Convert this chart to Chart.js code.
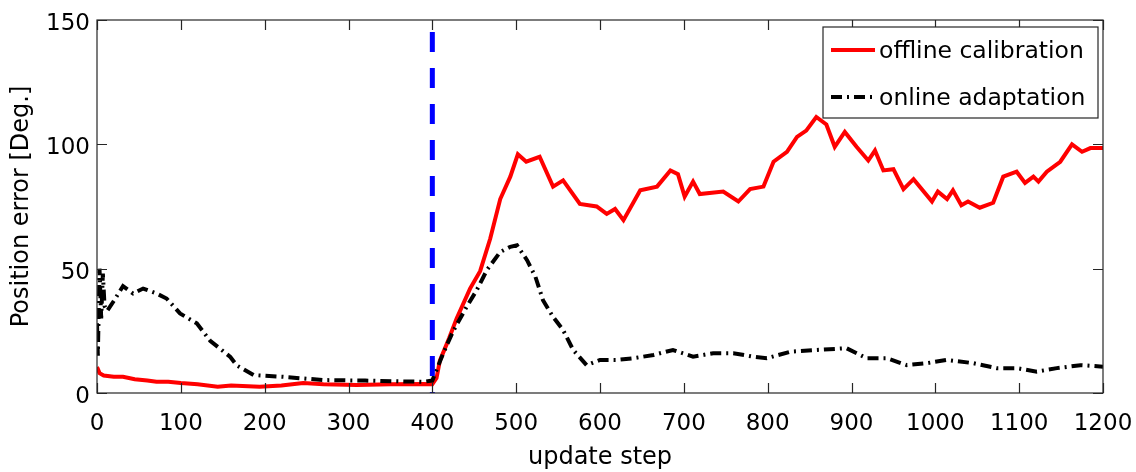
<!DOCTYPE html>
<html>
<head>
<meta charset="utf-8">
<script src="https://cdn.jsdelivr.net/npm/chart.js@4/dist/chart.umd.min.js"></script>
<style>
  html, body { margin: 0; padding: 0; background: #fff; }
  #wrap { width: 1136px; height: 472px; }
</style>
</head>
<body>
<div id="wrap"><canvas id="myChart" width="1136" height="472"></canvas></div>
<script>
// values
var offlineSteps = [0, 3, 8, 20, 31, 45, 60, 71, 85, 100, 120, 144, 160, 194, 220, 246, 270, 310, 350, 389, 400,
  405, 409, 420, 429, 445, 457, 469, 481, 493, 502, 512, 528, 544, 556, 576, 596, 608, 618, 628, 648, 668,
  684, 693, 701, 711, 719, 747, 765, 779, 795, 807, 823, 835, 846, 858, 870, 880, 892, 906, 920, 928, 938,
  950, 962, 974, 996, 1003, 1014, 1021, 1031, 1039, 1053, 1069, 1081, 1097, 1107, 1117, 1123, 1133, 1149,
  1163, 1175, 1185, 1200];
var offlineError = [10.5, 8, 7, 6.5, 6.5, 5.5, 5, 4.5, 4.5, 4, 3.5, 2.5, 3, 2.5, 3, 4, 3.5, 3.2, 3.5, 3.6, 3.5,
  6, 13, 22, 30, 42, 49, 62, 78, 87, 96, 93, 95, 83, 85.5, 76, 75, 72, 74, 69.5, 81.5, 83,
  89.5, 88, 79, 85, 80, 81, 77, 82, 83, 93, 97, 103, 105.5, 111, 108, 99, 105, 99, 93.5, 97.5, 89.5,
  90, 82, 86, 77, 81, 78, 81.5, 75.5, 77, 74.5, 76.5, 87, 89, 84.5, 87, 85, 89, 93,
  100, 97, 98.5, 98.5];

var onlineSteps = [0, 1, 3, 5, 7, 9, 12, 20, 31, 43, 55, 71, 83, 99, 119, 135, 159, 167, 187, 222, 270, 320, 389, 400,
  413, 425, 441, 453, 465, 481, 493, 501, 513, 523, 532, 544, 556, 568, 584, 600, 620, 640, 664, 687,
  711, 735, 759, 783, 799, 827, 858, 894, 918, 942, 966, 990, 1014, 1045, 1073, 1097, 1121, 1145, 1173, 1200];
var onlineError = [28, 15, 50, 30, 48, 35, 33, 37, 43, 40, 42, 40, 38, 32, 28, 21, 14.5, 11, 7.2, 6.5, 5.2, 5, 4.5, 5,
  16, 25, 34.7, 41.4, 49.4, 56.7, 58.8, 59.4, 53.4, 46.7, 37.3, 30.6, 25.3, 17.3, 11.2, 13.3, 13.3, 14, 15.3, 17.3,
  14.6, 16, 16, 14.6, 14, 16.6, 17.3, 18, 14, 14, 11.2, 12, 13.3, 12, 10, 10, 8.6, 10, 11.2, 10.6];

var switchStep = 400;
var xTicks = [0, 100, 200, 300, 400, 500, 600, 700, 800, 900, 1000, 1100, 1200];
var yTicks = [0, 50, 100, 150];

function toPoints(xs, ys) {
  return xs.map(function (x, i) { return { x: x, y: ys[i] }; });
}

var FONT = "'DejaVu Sans', 'Liberation Sans', Arial, sans-serif";

// box around the axes with inward tick marks, like the original figure
var framePlugin = {
  id: "frame",
  afterDatasetsDraw: function (chart) {
    var ctx = chart.ctx;
    var a = chart.chartArea;
    var xs = chart.scales.x, ys = chart.scales.y;
    ctx.save();
    ctx.strokeStyle = "#262626";
    ctx.lineWidth = 1.2;
    ctx.strokeRect(a.left, a.top, a.right - a.left, a.bottom - a.top);
    ctx.beginPath();
    xTicks.forEach(function (t) {
      var px = Math.round(xs.getPixelForValue(t)) + 0.5;
      ctx.moveTo(px, a.bottom); ctx.lineTo(px, a.bottom - 10);
      ctx.moveTo(px, a.top); ctx.lineTo(px, a.top + 10);
    });
    yTicks.forEach(function (t) {
      var py = Math.round(ys.getPixelForValue(t)) + 0.5;
      ctx.moveTo(a.left, py); ctx.lineTo(a.left + 10, py);
      ctx.moveTo(a.right, py); ctx.lineTo(a.right - 10, py);
    });
    ctx.stroke();
    ctx.restore();
  },
  afterDraw: function (chart) {
    // legend box in the upper right corner
    var ctx = chart.ctx;
    var a = chart.chartArea;
    var bx = a.right - 280, by = a.top + 7, bw = 275, bh = 91;
    ctx.save();
    ctx.fillStyle = "#fff";
    ctx.fillRect(bx, by, bw, bh);
    ctx.strokeStyle = "#262626";
    ctx.lineWidth = 1.2;
    ctx.strokeRect(bx, by, bw, bh);
    var items = chart.data.datasets.filter(function (d) { return d.inLegend; });
    items.forEach(function (d, i) {
      var yy = by + 23 + i * 47;
      ctx.beginPath();
      ctx.strokeStyle = d.borderColor;
      ctx.lineWidth = d.borderWidth;
      ctx.setLineDash(d.borderDash || []);
      ctx.moveTo(bx + 8, yy);
      ctx.lineTo(bx + 52, yy);
      ctx.stroke();
      ctx.setLineDash([]);
      ctx.fillStyle = "#000";
      ctx.font = "23.5px " + FONT;
      ctx.textBaseline = "middle";
      ctx.textAlign = "left";
      ctx.fillText(d.label, bx + 56, yy + 2);
    });
    ctx.restore();
  }
};

new Chart("myChart", {
  type: "line",
  data: {
    datasets: [
      {
        label: "offline calibration",
        data: toPoints(offlineSteps, offlineError),
        borderColor: "#ff0000",
        borderWidth: 4,
        pointRadius: 0,
        tension: 0,
        order: 3,
        inLegend: true
      },
      {
        label: "online adaptation",
        data: toPoints(onlineSteps, onlineError),
        borderColor: "#000000",
        borderWidth: 4,
        borderDash: [11, 5, 2, 5],
        pointRadius: 0,
        tension: 0,
        order: 2,
        inLegend: true
      },
      {
        label: "switch",
        data: [{ x: switchStep, y: 0 }, { x: switchStep, y: 150 }],
        borderColor: "#0000ff",
        borderWidth: 5,
        borderDash: [20, 16],
        borderDashOffset: 19,
        pointRadius: 0,
        order: 1,
        inLegend: false
      }
    ]
  },
  options: {
    responsive: false,
    animation: false,
    events: [],
    layout: { padding: { left: 0, right: 33, top: 20, bottom: 0 } },
    plugins: {
      legend: { display: false },
      tooltip: { enabled: false },
      title: { display: false }
    },
    scales: {
      x: {
        type: "linear",
        min: 0,
        max: 1200,
        afterFit: function (s) { s.height = 79; s.paddingLeft = 0; s.paddingRight = 0; },
        afterBuildTicks: function (s) { s.ticks = xTicks.map(function (v) { return { value: v }; }); },
        grid: { display: false, drawTicks: false },
        border: { display: false },
        ticks: {
          color: "#000", font: { size: 23, family: FONT }, padding: 17, maxRotation: 0, autoSkip: false,
          callback: function (v) { return String(v); }
        },
        title: { display: true, text: "update step", color: "#000", font: { size: 24, family: FONT }, padding: { top: 0, bottom: 0 } }
      },
      y: {
        type: "linear",
        min: 0,
        max: 150,
        afterFit: function (s) { s.width = 97; s.paddingTop = 0; s.paddingBottom = 0; },
        afterBuildTicks: function (s) { s.ticks = yTicks.map(function (v) { return { value: v }; }); },
        grid: { display: false, drawTicks: false },
        border: { display: false },
        ticks: { color: "#000", font: { size: 23, family: FONT }, padding: 7, labelOffset: 4, callback: function (v) { return String(v); } },
        title: { display: true, text: "Position error [Deg.]", color: "#000", font: { size: 24, family: FONT }, padding: { top: 7, bottom: 0 } }
      }
    }
  },
  plugins: [framePlugin]
});
</script>
</body>
</html>
